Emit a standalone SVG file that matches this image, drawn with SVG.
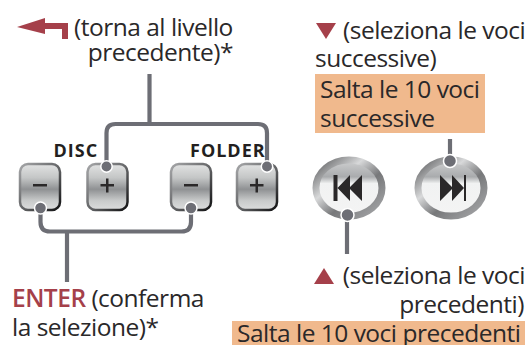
<svg xmlns="http://www.w3.org/2000/svg" width="530" height="345" viewBox="0 0 530 345">
<style>
.t{font-family:"Open Sans","Noto Sans",sans-serif;font-size:24.5px;letter-spacing:-0.5px;fill:#2a2829}
.r{fill:#a5404a}
.l{font-family:"Open Sans","Noto Sans",sans-serif;font-size:18px;font-weight:700;fill:#231f20;letter-spacing:1px}
.c{fill:none;stroke:#6d6e75;stroke-width:4.2}
.d{fill:#6d6e75;stroke:#fff;stroke-width:1.5}
.b{fill:url(#bg);stroke:url(#be);stroke-width:2.500}
.o{fill:url(#og);stroke:url(#oe);stroke-width:7}
.g{fill:#2a2829}
.hl{fill:#f0b98d}
</style>
<defs>
<linearGradient id="bg" x1="0" y1="0" x2="0" y2="1"><stop offset="0" stop-color="#e2e3e3"/><stop offset=".3" stop-color="#c4c6c6"/><stop offset=".55" stop-color="#8f9193"/><stop offset=".8" stop-color="#c9cbcb"/><stop offset="1" stop-color="#dcdddd"/></linearGradient>
<linearGradient id="be" x1="0" y1="0" x2="1" y2="1"><stop offset="0" stop-color="#a5a6a8"/><stop offset=".55" stop-color="#5f6062"/><stop offset="1" stop-color="#111112"/></linearGradient>
<linearGradient id="og" x1="0" y1="0" x2="0" y2="1"><stop offset="0" stop-color="#cfd0d1"/><stop offset=".3" stop-color="#a9abad"/><stop offset=".42" stop-color="#f1f2f2"/><stop offset="1" stop-color="#f4f4f4"/></linearGradient>
<linearGradient id="oe" x1="0" y1="0" x2="1" y2="1"><stop offset="0" stop-color="#5a5b5d"/><stop offset=".35" stop-color="#d8d9da"/><stop offset=".6" stop-color="#77787a"/><stop offset="1" stop-color="#a8a9ab"/></linearGradient>
</defs>
<g id="connectors">
<path class="c" d="M149.500 74V124"/>
<path class="c" d="M106.500 166V133Q106.500 124 115.500 124H258Q267 124 267 133V166"/>
<path class="c" d="M40.500 208V222Q40.500 231.500 50 231.500H181.500Q191 231.500 191 222V208"/>
<path class="c" d="M67 231.500V282"/>
<path class="c" d="M450 139V161"/>
<path class="c" d="M347 215V254"/>
</g>
<g id="back-label">
<path class="r" d="M17 27L45 18V23H68V39H62V29H45V34Z"/>
<text class="t" x="74" y="36">(torna al livello</text>
<text class="t" x="233" y="61" text-anchor="end">precedente)*</text>
</g>
<g id="disc-label"><text class="l" x="53.500" y="157">DISC</text></g>
<g id="folder-label"><text class="l" x="190" y="157">FOLDER</text></g>
<g id="disc-minus"><rect class="b" x="20" y="164" width="40" height="46" rx="8"/><rect class="g" x="33" y="184" width="14" height="2.500"/></g>
<g id="disc-plus"><rect class="b" x="87.500" y="164" width="40" height="46" rx="8"/><path class="g" d="M100.500 184H106V178.500H108.500V184H114V186.500H108.500V192.500H106V186.500H100.500Z"/></g>
<g id="folder-minus"><rect class="b" x="171" y="164" width="40" height="46" rx="8"/><rect class="g" x="184" y="184" width="14" height="2.500"/></g>
<g id="folder-plus"><rect class="b" x="237" y="164" width="40" height="46" rx="8"/><path class="g" d="M250 184H255.500V178.500H258V184H263.500V186.500H258V192.500H255.500V186.500H250Z"/></g>
<g id="dots">
<circle class="d" cx="106.500" cy="166.500" r="5.700"/>
<circle class="d" cx="267" cy="166.500" r="5.700"/>
<circle class="d" cx="40.500" cy="208" r="6"/>
<circle class="d" cx="191" cy="208" r="6"/>
</g>
<g id="prev-button">
<ellipse class="o" cx="349" cy="188" rx="33" ry="28"/>
<path class="g" d="M333.500 175H337.500V201H333.500ZM337.500 188L350 175V201ZM349 188L362 175V201Z"/>
<circle class="d" cx="347.500" cy="215" r="6.500"/>
</g>
<g id="next-button">
<ellipse class="o" cx="451" cy="188" rx="33" ry="28"/>
<path class="g" d="M466 175H464V201H466ZM464 188L452 175V201ZM453 188L440 175V201Z"/>
<circle class="d" cx="450" cy="161" r="6.500"/>
</g>
<g id="next-label">
<path class="r" d="M316 23H336L326 39Z"/>
<text class="t" x="343" y="39">(seleziona le voci</text>
<text class="t" x="315" y="67">successive)</text>
<rect class="hl" x="315" y="74" width="170" height="59"/>
<text class="t" x="320" y="98">Salta le 10 voci</text>
<text class="t" x="320" y="127">successive</text>
</g>
<g id="enter-label">
<text class="t" x="12" y="307"><tspan class="r" font-weight="600">ENTER</tspan> (conferma</text>
<text class="t" x="12" y="336">la selezione)*</text>
</g>
<g id="prev-label">
<path class="r" d="M314 284H334L324 268Z"/>
<text class="t" x="525" y="284" text-anchor="end">(seleziona le voci</text>
<text class="t" x="524" y="313" text-anchor="end">precedenti)</text>
<rect class="hl" x="232" y="321" width="293" height="24"/>
<text class="t" x="237" y="342">Salta le 10 voci precedenti</text>
</g>
</svg>
